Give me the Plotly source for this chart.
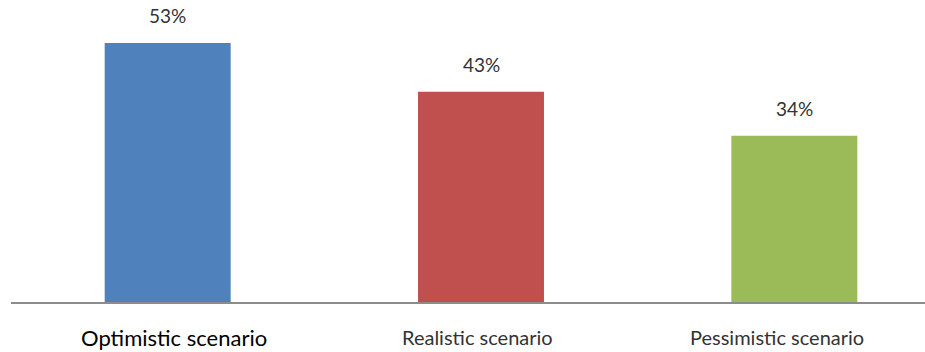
import plotly.graph_objects as go

categories = ["Optimistic scenario", "Realistic scenario", "Pessimistic scenario"]
values = [53, 43, 34]
labels = ["53%", "43%", "34%"]
colors = ["#4F81BD", "#C0504D", "#9BBB59"]
cat_sizes = [22, 20, 20]
cat_colors = ["#000000", "#333333", "#333333"]
cat_xshift = [6, -4, -17]

fig = go.Figure(go.Bar(
    x=list(range(len(categories))), y=values,
    marker=dict(color=colors, line=dict(width=0)),
    width=0.402, hoverinfo="skip",
))

for i, (v, lab) in enumerate(zip(values, labels)):
    fig.add_annotation(x=i, y=v, text=lab, showarrow=False, yanchor="bottom",
                       yshift=14, font=dict(size=19, color="#333333"))

for i, (cat, s, c, dx) in enumerate(zip(categories, cat_sizes, cat_colors, cat_xshift)):
    fig.add_annotation(x=i, y=0, text=cat, showarrow=False, yanchor="middle",
                       yshift=-35, xshift=dx, font=dict(size=s, color=c))

fig.update_layout(
    width=925, height=352,
    margin=dict(l=11, r=0, t=10, b=50),
    paper_bgcolor="white", plot_bgcolor="white",
    font=dict(family="Lato, Open Sans, sans-serif", color="#333333"),
    bargap=0.6,
    showlegend=False,
    xaxis=dict(range=[-0.5, 2.417], showticklabels=False,
               showgrid=False, zeroline=False, showline=True,
               linecolor="#8C8C8C", linewidth=2, ticks=""),
    yaxis=dict(range=[0, 59.75], visible=False, showgrid=False, zeroline=False),
)

fig.write_html("out.html")
